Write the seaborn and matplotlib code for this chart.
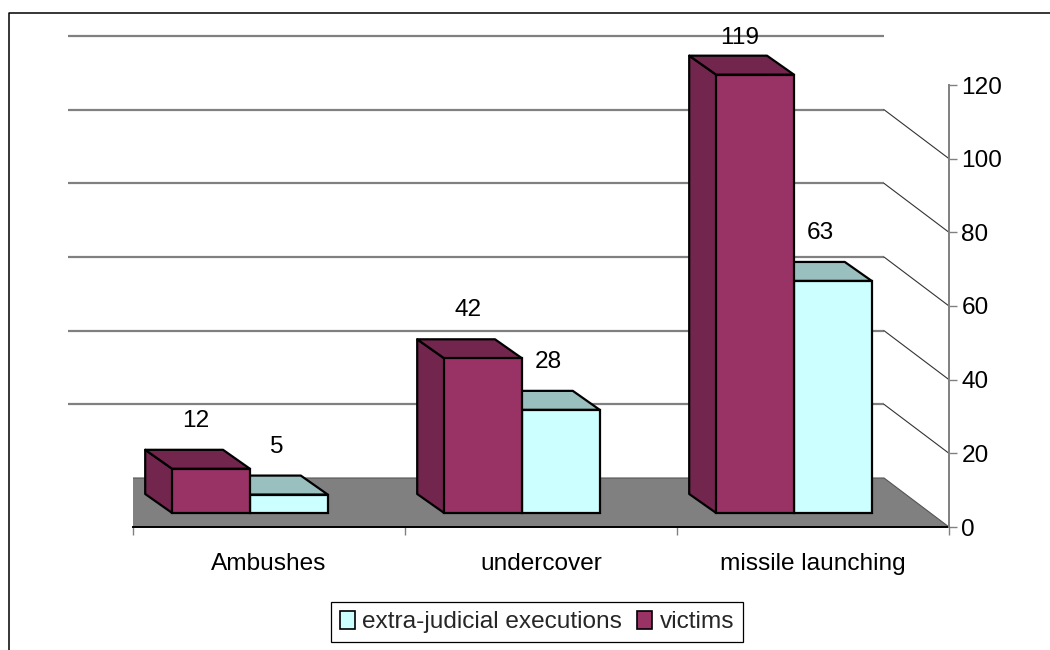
import matplotlib
matplotlib.use("Agg")
import matplotlib.pyplot as plt
import numpy as np
import pandas as pd
import seaborn as sns
from matplotlib.lines import Line2D
from matplotlib.patches import Patch, Polygon
from matplotlib.transforms import Affine2D, IdentityTransform

categories = ["Ambushes", "undercover", "missile launching"]
victims = [12, 42, 119]
executions = [5, 28, 63]
y_ticks = [0, 20, 40, 60, 80, 100, 120]
series_names = ["victims", "extra-judicial executions"]

sns.set_theme(style="white")
plt.rcParams["font.family"] = ["Liberation Sans", "DejaVu Sans"]
FS = 17.6
W, H = 1050, 650

df = pd.DataFrame({
    "category": categories * 2,
    "series": [series_names[0]] * 3 + [series_names[1]] * 3,
    "value": victims + executions,
})

fig = plt.figure(figsize=(W / 100, H / 100), dpi=100, facecolor="white")
ax = fig.add_axes([133 / W, 1 - 527 / H, 816 / W, 442 / H])
ax.patch.set_alpha(0)

colors = {series_names[0]: "#993366", series_names[1]: "#CCFFFF"}
sides = {series_names[0]: "#73264D", series_names[1]: "#99BFBF"}
sns.barplot(data=df, x="category", y="value", hue="series", hue_order=series_names,
            palette=colors, width=0.572, gap=0, saturation=1, legend=False,
            edgecolor="black", linewidth=1.6, ax=ax)
ax.set_xlim(-0.5, 2.5)
ax.set_ylim(0, 120)
ax.set_xlabel("")
ax.set_ylabel("")

# Depth of the fake 3D box, in pixels
WALL = np.array([-65, 49])
BAR_FRONT = np.array([-19, 14])
BAR_DEPTH = np.array([-27, 19])


def shifted(offset):
    return ax.transData + Affine2D().translate(*offset)


# floor
left, right = ax.get_xlim()
p = ax.transData.transform([(left, 0), (right, 0)])
floor = Polygon([p[0], p[1], p[1] + WALL, p[0] + WALL], closed=True, facecolor="#808080",
                edgecolor="#555555", linewidth=0.8, transform=IdentityTransform(), zorder=1)
ax.add_patch(floor)

# gridlines on the back wall and their diagonals on the side wall
for v in y_ticks[1:]:
    ax.plot([left, right], [v, v], color="#808080", lw=1.6, transform=shifted(WALL),
            zorder=1.5, clip_on=False, solid_capstyle="butt")
    q = ax.transData.transform((right, v))
    ax.add_line(Line2D([q[0], q[0] + WALL[0]], [q[1], q[1] + WALL[1]], color="#333333", lw=0.8,
                       transform=IdentityTransform(), zorder=1.5))

# bars: fronts from seaborn, side and top faces derived from them
for name, cont, z in zip(series_names, ax.containers, (6, 4)):
    for patch in cont.patches:
        x0, y0 = patch.get_x(), patch.get_y()
        x1, y1 = x0 + patch.get_width(), y0 + patch.get_height()
        patch.set_transform(shifted(BAR_FRONT))
        patch.set_clip_on(False)
        patch.set_zorder(z + 0.5)
        bl, tl, tr = ax.transData.transform([(x0, y0), (x0, y1), (x1, y1)]) + BAR_FRONT
        for pts in ([bl, tl, tl + BAR_DEPTH, bl + BAR_DEPTH],
                    [tl, tr, tr + BAR_DEPTH, tl + BAR_DEPTH]):
            ax.add_patch(Polygon(pts, closed=True, facecolor=sides[name], edgecolor="black",
                                 linewidth=1.6, joinstyle="round", transform=IdentityTransform(),
                                 zorder=z, clip_on=False))
        # value label
        top_px = tl[1]
        offset = min(48, (H - 38) - top_px)
        xc = (tl[0] + tr[0]) / 2 + (-15 if name == series_names[0] else -13)
        ax.text(xc, top_px + offset, f"{y1:.0f}", transform=IdentityTransform(), ha="center",
                va="center", fontsize=FS, color="black", zorder=8, clip_on=False)

# axes
sns.despine(ax=ax, left=True, right=False, top=True, bottom=False)
ax.spines["right"].set_color("#808080")
ax.spines["right"].set_linewidth(1.4)
ax.spines["bottom"].set_color("black")
ax.spines["bottom"].set_linewidth(1.4)
ax.spines["bottom"].set_zorder(2)
ax.yaxis.tick_right()
ax.set_yticks(y_ticks)
ax.tick_params(axis="y", which="major", right=True, left=False, length=6, width=1, color="#808080",
               pad=3, labelsize=FS, labelcolor="black")
ax.set_xticks([-0.5, 0.5, 1.5, 2.5])
ax.set_xticklabels([])
ax.set_xticks([0, 1, 2], categories, minor=True)
ax.tick_params(axis="x", which="major", bottom=True, length=6, width=1, color="#808080")
ax.tick_params(axis="x", which="minor", bottom=False, length=0, pad=19, labelsize=FS, labelcolor="black")

# legend
handles = [Patch(facecolor=colors[series_names[1]], edgecolor="black", linewidth=1.2),
           Patch(facecolor=colors[series_names[0]], edgecolor="black", linewidth=1.2)]
fig.legend(handles, [series_names[1], series_names[0]], ncol=2, loc="center",
           bbox_to_anchor=(537 / W, 1 - 622 / H), fontsize=FS, frameon=True, fancybox=False,
           edgecolor="black", facecolor="white", framealpha=1, handlelength=0.62, handleheight=0.8,
           handletextpad=0.3, columnspacing=0.6, borderpad=0.35, borderaxespad=0)
fig.legends[0].get_frame().set_linewidth(0.9)

# outer chart border
fig.add_artist(Line2D([9 / W, 9 / W, 1], [0, 1 - 13 / H, 1 - 13 / H], color="black", lw=1.1,
                      transform=fig.transFigure))

fig.savefig("out.png", dpi=100)
